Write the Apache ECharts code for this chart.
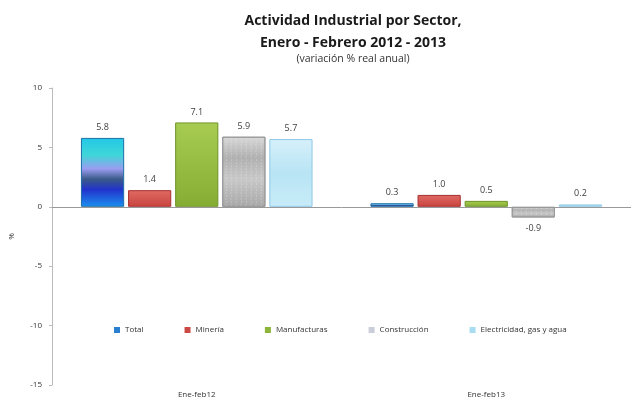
<!DOCTYPE html>
<html>
<head>
<meta charset="utf-8">
<script src="https://cdn.jsdelivr.net/npm/echarts@6/dist/echarts.min.js"></script>
<style>
  html, body { margin: 0; padding: 0; background: #fff; }
  #chart { width: 633px; height: 402px; }
</style>
</head>
<body>
<div id="chart"></div>
<script>
  const categories = ['Ene-feb12', 'Ene-feb13']
  const total = [5.8, 0.3]
  const mineria = [1.4, 1.0]
  const manufacturas = [7.1, 0.5]
  const construccion = [5.9, -0.9]
  const electricidad = [5.7, 0.2]
  const yTicks = [-15, -10, -5, 0, 5, 10]

  const grad = (stops) => new echarts.graphic.LinearGradient(0, 0, 0, 1,
    stops.map(s => ({ offset: s[0], color: s[1] })))

  const seriesDefs = [
    {
      name: 'Total', data: total,
      color: grad([[0, '#22c8e6'], [0.25, '#3fd6d8'], [0.45, '#9a9cf0'], [0.6, '#3a5a88'], [0.75, '#2233cc'], [1, '#1a90f0']]),
      legendColor: '#2a7fd0', border: '#1d6fa8'
    },
    {
      name: 'Minería', data: mineria,
      color: grad([[0, '#e06a64'], [1, '#c9443f']]),
      legendColor: '#cc4a46', border: '#a83030'
    },
    {
      name: 'Manufacturas', data: manufacturas,
      color: grad([[0, '#a8cc52'], [1, '#86ad33']]),
      legendColor: '#8db53a', border: '#6e9428'
    },
    {
      name: 'Construcción', data: construccion,
      color: grad([[0, '#d8d8d8'], [0.3, '#b0b0b0'], [0.6, '#c8c8c8'], [1, '#a8a8a8']]),
      legendColor: '#c8ccd8', border: '#9a9a9a',
      decal: { symbol: 'circle', symbolSize: 0.5, dashArrayX: [[3, 2], [2, 3]], dashArrayY: [2, 1], color: 'rgba(255,255,255,0.55)' }
    },
    {
      name: 'Electricidad, gas y agua', data: electricidad,
      color: grad([[0, '#d6f0fa'], [0.5, '#b8e4f4'], [1, '#c8ecf8']]),
      legendColor: '#a8dcf2', border: '#8ec8e6'
    }
  ]

  const chart = echarts.init(document.getElementById('chart'))

  const option = {
    animation: false,
    textStyle: { fontFamily: 'Open Sans, Liberation Sans, sans-serif' },
    title: [
      {
        text: 'Actividad Industrial por Sector,\nEnero - Febrero 2012 - 2013',
        left: 348, top: 5, textAlign: 'center',
        textStyle: { fontSize: 14, fontWeight: 'bold', color: '#1a1a1a', lineHeight: 22 }
      },
      {
        text: '(variación % real anual)',
        left: 348, top: 49, textAlign: 'center',
        textStyle: { fontSize: 10.5, fontWeight: 'normal', color: '#333' }
      }
    ],
    legend: {
      data: seriesDefs.map(s => ({ name: s.name, itemStyle: { color: s.legendColor, borderWidth: 0 } })),
      left: 109, top: 321,
      itemWidth: 6, itemHeight: 6, itemGap: 41,
      icon: 'rect',
      textStyle: { fontSize: 8, color: '#333' }
    },
    grid: { left: 50, right: 2, top: 88, bottom: 17 },
    xAxis: {
      type: 'category',
      data: categories,
      axisLine: { show: false },
      axisTick: { show: false },
      axisLabel: { fontSize: 8, color: '#333', margin: 6 }
    },
    yAxis: {
      type: 'value',
      min: yTicks[0], max: yTicks[yTicks.length - 1], interval: 5,
      name: '%', nameLocation: 'middle', nameGap: 36, nameRotate: 90,
      nameTextStyle: { fontSize: 8, color: '#333' },
      axisLine: { show: true, lineStyle: { color: '#bbb' } },
      axisTick: { show: true, length: 3, lineStyle: { color: '#bbb' } },
      axisLabel: { fontSize: 8, color: '#333', margin: 10 },
      splitLine: { show: false }
    },
    series: seriesDefs.map((s, i) => ({
      name: s.name,
      type: 'bar',
      data: s.data.map(v => v < 0 ? { value: v, label: { position: 'bottom' } } : v),
      barCategoryGap: '20%',
      barGap: '9%',
      itemStyle: { color: s.color, borderColor: s.border, borderWidth: 1, decal: s.decal },
      label: {
        show: true,
        position: 'top',
        distance: 6,
        fontSize: 9,
        color: '#404040',
        formatter: p => p.value.toFixed(1)
      },
      markLine: i === 0 ? {
        silent: true,
        symbol: 'none',
        label: { show: false },
        lineStyle: { color: '#999', type: 'solid', width: 1 },
        data: [{ yAxis: 0 }]
      } : undefined,
      z: 3
    })),
    aria: { enabled: false, decal: { show: true } }
  }

  chart.setOption(option)
</script>
</body>
</html>
